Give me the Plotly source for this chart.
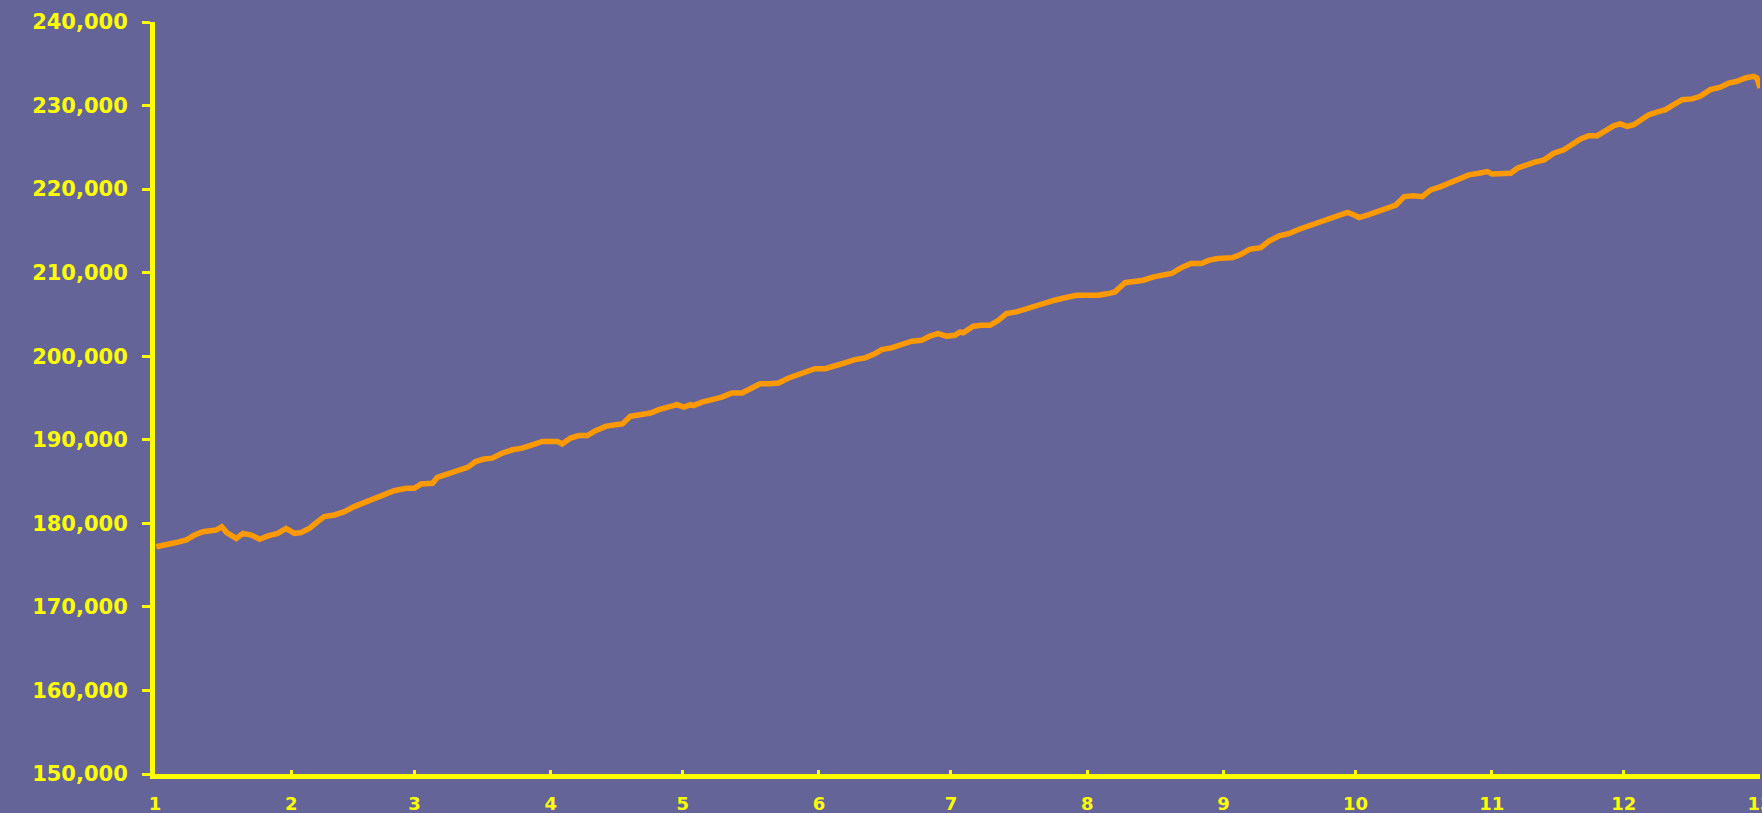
import plotly.graph_objects as go

# day of year -> value
days = [
    0.3, 2.6, 4.8, 7.1, 9.0, 10.9, 12.8, 13.9, 15.2, 16.3, 18.5, 20.0, 21.9, 23.8, 25.7, 27.9,
    29.8, 31.7, 33.2, 35.1, 37.0, 38.5, 40.8, 43.1, 45.3, 47.6, 49.9, 52.1, 54.4, 57.1, 59.0, 60.5,
    61.6, 63.1, 64.2, 66.5, 68.8, 71.1, 72.9, 74.8, 76.7, 79.0, 81.3, 83.5, 85.8, 88.1, 90.0, 91.5,
    92.6, 94.5, 96.4, 98.3, 100.2, 102.5, 104.7, 106.3, 108.1, 110.4, 112.7, 114.6, 116.8, 118.7, 120.3, 121.8,
    122.5, 124.4, 126.7, 128.9, 131.2, 133.5, 135.4, 137.6, 139.9, 141.8, 144.1, 146.4, 148.2, 150.1, 152.4,
    154.7, 156.9, 159.2, 161.5, 163.7, 165.3, 167.5, 169.8, 172.1, 174.3, 176.2, 178.1, 180.0, 181.9, 183.1,
    183.8, 186.1, 188.0, 189.9, 191.8, 193.6, 195.9, 197.8, 200.1, 202.4, 204.6, 206.9, 209.6, 212.2, 214.5,
    216.8, 218.3, 220.6, 222.9, 224.8, 227.1, 229.3, 231.2, 233.4, 235.6, 237.9, 239.8, 241.7, 244.0,
    245.1, 247.0, 248.9, 251.5, 253.4, 255.7, 258.0, 260.2, 262.5, 264.8, 267.0, 268.9, 271.2, 272.7, 273.8,
    275.7, 278.0, 280.3, 282.2, 284.1, 286.3, 288.2, 290.1, 292.4, 294.7, 296.9, 298.8, 301.1, 303.0, 304.1, 305.6,
    306.4, 308.3, 309.8, 311.7, 313.6, 315.9, 318.1, 320.4, 322.3, 324.2, 326.1, 328.0, 329.9, 331.8, 333.2, 334.8,
    336.3, 337.8, 339.7, 341.6, 343.5, 345.4, 347.3, 349.6, 351.4, 353.7, 356.0, 357.9, 359.8, 361.7, 363.5, 364.3, 365.0,
]
values = [
    177200, 177400, 177700, 178000, 178600, 179000, 179200, 179200, 179600, 178900, 178200, 178800, 178600, 178100, 178500, 178800,
    179400, 178800, 178900, 179400, 180200, 180800, 181000, 181400, 182000, 182500, 183000, 183500, 183900, 184200, 184200, 184700,
    184800, 184800, 185500, 185900, 186400, 186700, 187400, 187700, 187800, 188400, 188800, 189000, 189400, 189800, 189800, 189800,
    189500, 190200, 190500, 190500, 191100, 191600, 191800, 191900, 192800, 193000, 193200, 193600, 193900, 194200, 193900, 194200,
    194100, 194500, 194800, 195100, 195600, 195600, 196100, 196700, 196700, 196800, 197400, 197800, 198200, 198500, 198500,
    198800, 199200, 199600, 199800, 200300, 200800, 201000, 201400, 201800, 201900, 202400, 202700, 202400, 202500, 202900,
    202800, 203600, 203700, 203700, 204300, 205100, 205300, 205600, 206100, 206400, 206700, 207000, 207300, 207300, 207300,
    207500, 207700, 208800, 208900, 209100, 209500, 209700, 209900, 210600, 211100, 211100, 211500, 211700, 211700,
    211800, 212200, 212800, 213000, 213800, 214400, 214700, 215200, 215600, 216000, 216300, 216800, 217200, 216900, 216600,
    216900, 217300, 217700, 218100, 219100, 219200, 219100, 219900, 220300, 220800, 221300, 221700, 221900, 222100, 221800, 221800,
    221900, 221900, 222500, 222900, 223200, 223500, 224300, 224700, 225400, 226000, 226400, 226400, 227000, 227600, 227800, 227500,
    227700, 228300, 228900, 229200, 229500, 230100, 230700, 230800, 231100, 231900, 232200, 232700, 232900, 233300, 233500, 233300, 232100,
]

# month starts
month_days = [0, 31, 59, 90, 120, 151, 181, 212, 243, 273, 304, 334, 365]
month_labels = [str(m) for m in range(1, 14)]
y_ticks = list(range(150000, 240001, 10000))

bg = "#646499"
yellow = "#FFFF00"

fig = go.Figure(
    go.Scatter(
        x=days,
        y=values,
        mode="lines",
        line=dict(color="#FF9900", width=5.5),
        hoverinfo="skip",
    )
)

fig.update_layout(
    width=1762,
    height=813,
    paper_bgcolor=bg,
    plot_bgcolor=bg,
    showlegend=False,
    margin=dict(l=155, r=2, t=22, b=39),
)
fig.update_xaxes(
    range=[0, 365],
    tickvals=month_days,
    ticktext=month_labels,
    showgrid=False,
    zeroline=False,
    showline=True,
    linecolor=yellow,
    linewidth=5,
    ticks="inside",
    ticklen=4,
    tickwidth=3,
    tickcolor=yellow,
    tickfont=dict(family="DejaVu Sans", size=18, color=yellow, weight="bold"),
    ticklabelstandoff=9,
    ticklabeloverflow="allow",
    automargin=False,
)
fig.update_yaxes(
    range=[150000, 240000],
    tickvals=y_ticks,
    tickformat=",d",
    showgrid=False,
    zeroline=False,
    showline=True,
    linecolor=yellow,
    linewidth=5,
    ticks="outside",
    ticklen=8,
    tickwidth=3,
    tickcolor=yellow,
    tickfont=dict(family="DejaVu Sans", size=21, color=yellow, weight="bold"),
    ticklabelstandoff=10,
    automargin=False,
)

# drop the page margin so the chart fills the window
fig.write_html(
    "out.html",
    config={"displayModeBar": False},
    post_script="document.body.style.margin='0';document.body.style.background='%s';" % bg,
)
